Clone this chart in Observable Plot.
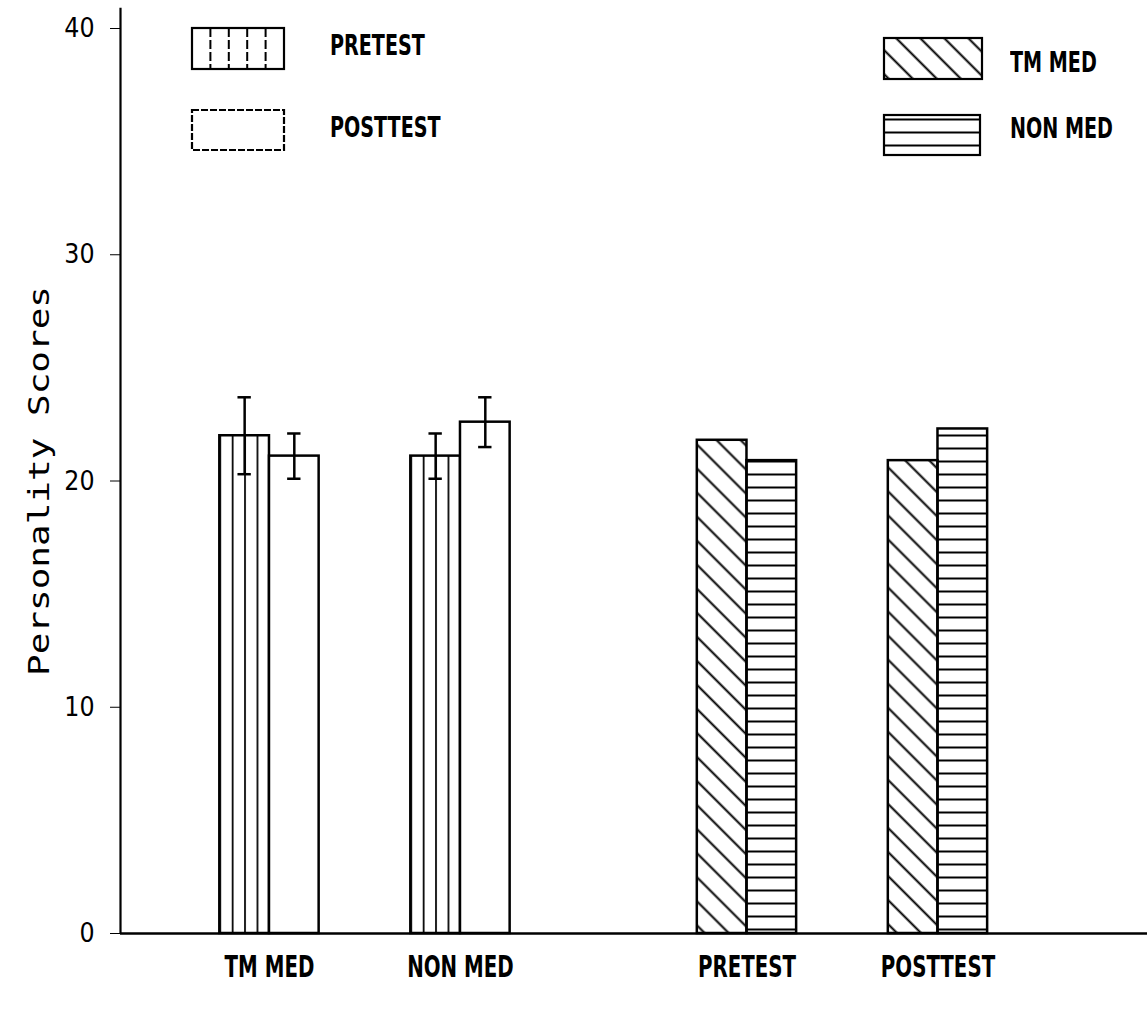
<!DOCTYPE html>
<html><head><meta charset="utf-8">
<script src="https://cdn.jsdelivr.net/npm/d3@7"></script>
<script src="https://cdn.jsdelivr.net/npm/@observablehq/plot@0.6"></script>
<style>
body{margin:0;background:#fff;}
#wrap{position:relative;width:1147px;height:1016px;overflow:hidden;}
.lab{position:absolute;font-family:"DejaVu Sans";font-weight:bold;font-size:29px;line-height:1;white-space:nowrap;transform:scaleX(0.66);transform-origin:0 50%;color:#000;}
.sw{position:absolute;}
</style></head><body><div id="wrap"></div>
<script>
// ---- data ----
const groupLabels = ["TM MED", "NON MED", "PRETEST", "POSTTEST"];
const leftSeries = ["PRETEST", "POSTTEST"];   // bars within TM MED / NON MED groups
const rightSeries = ["TM MED", "NON MED"];    // bars within PRETEST / POSTTEST groups
const firstBarValues  = [22.0, 21.1, 21.8, 20.9];
const secondBarValues = [21.1, 22.6, 20.9, 22.3];
const firstBarErrors  = [1.7, 1.0, null, null];
const secondBarErrors = [1.0, 1.1, null, null];
const yTicks = [0, 10, 20, 30, 40];
const yTitle = "Personality Scores";

// ---- layout helpers ----
const slot = i => i + (i >= 2 ? 0.5 : 0);   // wider gap between the two halves
const barW = 0.26;
const xDomain = [-0.78, 4.597];

const bars = [];
groupLabels.forEach((g, i) => {
  const c = slot(i);
  const right = i >= 2;
  bars.push({group: g, x1: c - barW, x2: c, value: firstBarValues[i], err: firstBarErrors[i],
             pat: right ? "diag" : "vert"});
  bars.push({group: g, x1: c, x2: c + barW, value: secondBarValues[i], err: secondBarErrors[i],
             pat: right ? "horiz" : "plain"});
});
const errs = bars.filter(d => d.err != null).map(d => ({...d, cx: (d.x1 + d.x2) / 2}));
const capW = 0.035;
const slots = groupLabels.map((g, i) => slot(i));

const barMark = (pat, fill) => Plot.rect(bars.filter(d => d.pat === pat), {
  x1: "x1", x2: "x2", y1: 0, y2: "value", fill, stroke: "black", strokeWidth: 2.5
});

const chart = Plot.plot({
  width: 1147, height: 1016,
  marginLeft: 120, marginRight: 0, marginTop: 28, marginBottom: 83,
  style: {background: "white", color: "black", fontFamily: "DejaVu Sans"},
  x: {domain: xDomain, axis: null},
  y: {domain: [0, 40], axis: null},
  marks: [
    barMark("vert", "url(#pVert)"),
    barMark("plain", "white"),
    barMark("diag", "url(#pDiag)"),
    barMark("horiz", "url(#pHoriz)"),
    Plot.ruleX(errs, {x: "cx", y1: d => d.value - d.err, y2: d => d.value + d.err, strokeWidth: 2.5}),
    Plot.ruleY(errs, {x1: d => d.cx - capW, x2: d => d.cx + capW, y: d => d.value + d.err, strokeWidth: 2.5}),
    Plot.ruleY(errs, {x1: d => d.cx - capW, x2: d => d.cx + capW, y: d => d.value - d.err, strokeWidth: 2.5}),
    Plot.ruleX([xDomain[0]], {y1: 0, y2: 40.9, strokeWidth: 2.2}),
    Plot.ruleY([0], {strokeWidth: 2.5}),
    Plot.axisY({ticks: yTicks, tickSize: 10, tickPadding: 16, fontSize: 27, label: null, tickFormat: d => String(d)}),
    Plot.axisY({ticks: [], tickSize: 0, label: yTitle, labelAnchor: "center", labelArrow: "none", labelOffset: 92, fontSize: 29}),
    Plot.axisX({ticks: slots, tickSize: 0, tickPadding: 22, fontSize: 30, fontWeight: "bold",
                tickFormat: d => groupLabels[slots.indexOf(d)]})
  ]
});

const wrap = document.getElementById("wrap");
wrap.appendChild(chart);

// ---- patterns ----
const NS = "http://www.w3.org/2000/svg";
function defsHTML(prefix) {
  return `
  <pattern id="${prefix}Vert" patternUnits="objectBoundingBox" width="0.25" height="1">
    <line x1="0" y1="0" x2="0" y2="3000" stroke="black" stroke-width="3.5"/>
  </pattern>
  <pattern id="${prefix}Horiz" patternUnits="userSpaceOnUse" width="20" height="13">
    <line x1="0" y1="6.5" x2="20" y2="6.5" stroke="black" stroke-width="2"/>
  </pattern>
  <pattern id="${prefix}Diag" patternUnits="userSpaceOnUse" width="17" height="17" patternTransform="rotate(45)">
    <line x1="0" y1="8.5" x2="17" y2="8.5" stroke="black" stroke-width="2"/>
  </pattern>`;
}
const defs = document.createElementNS(NS, "defs");
defs.innerHTML = defsHTML("p");
chart.insertBefore(defs, chart.firstChild);

// ---- lettering ----
const svg = d3.select(chart);
svg.selectAll("text").each(function() {
  const t = this.textContent;
  if (t === yTitle) {
    this.setAttribute("font-family", "DejaVu Sans Mono");
    this.setAttribute("textLength", 390);
    this.setAttribute("lengthAdjust", "spacingAndGlyphs");
    return;
  }
  const len = this.getComputedTextLength();
  let k = 0.66;
  if (/^\d+$/.test(t)) { k = 0.88; this.setAttribute("font-weight", "500"); }
  this.setAttribute("textLength", len * k);
  this.setAttribute("lengthAdjust", "spacingAndGlyphs");
});

// ---- legends (HTML overlay) ----
function swatch(x, y, w, h, fill, dashed, vertCount) {
  const s = document.createElementNS(NS, "svg");
  s.setAttribute("width", w + 4); s.setAttribute("height", h + 4);
  s.setAttribute("class", "sw");
  s.style.left = (x - 2) + "px"; s.style.top = (y - 2) + "px";
  const id = "L" + x + "_" + y;
  let inner = `<defs>${defsHTML(id)}</defs>`;
  let f = "white";
  if (fill === "vert") {
    const lines = [];
    for (let k = 1; k < vertCount; k++) {
      const xx = 2 + k * w / vertCount;
      lines.push(`<line x1="${xx}" y1="2" x2="${xx}" y2="${h + 2}" stroke="black" stroke-width="2" stroke-dasharray="9 3"/>`);
    }
    inner += `<rect x="2" y="2" width="${w}" height="${h}" fill="white" stroke="black" stroke-width="2.2"/>` + lines.join("");
  } else {
    if (fill === "diag") f = `url(#${id}Diag)`;
    if (fill === "horiz") f = `url(#${id}Horiz)`;
    inner += `<rect x="2" y="2" width="${w}" height="${h}" fill="${f}" stroke="black" stroke-width="2.2" ${dashed ? 'stroke-dasharray="7 2"' : ''}/>`;
  }
  s.innerHTML = inner;
  wrap.appendChild(s);
}
function label(x, cy, text) {
  const d = document.createElement("div");
  d.className = "lab";
  d.textContent = text;
  d.style.left = x + "px";
  d.style.top = (cy - 15) + "px";
  wrap.appendChild(d);
}
swatch(192, 28, 92, 41, "vert", false, 5);
label(330, 46, leftSeries[0]);
swatch(192, 110, 92, 40, "plain", true);
label(330, 128, leftSeries[1]);
swatch(884, 38, 98, 41, "diag", false);
label(1010, 63, rightSeries[0]);
swatch(884, 115, 96, 40, "horiz", false);
label(1010, 129, rightSeries[1]);
</script>
</body></html>
